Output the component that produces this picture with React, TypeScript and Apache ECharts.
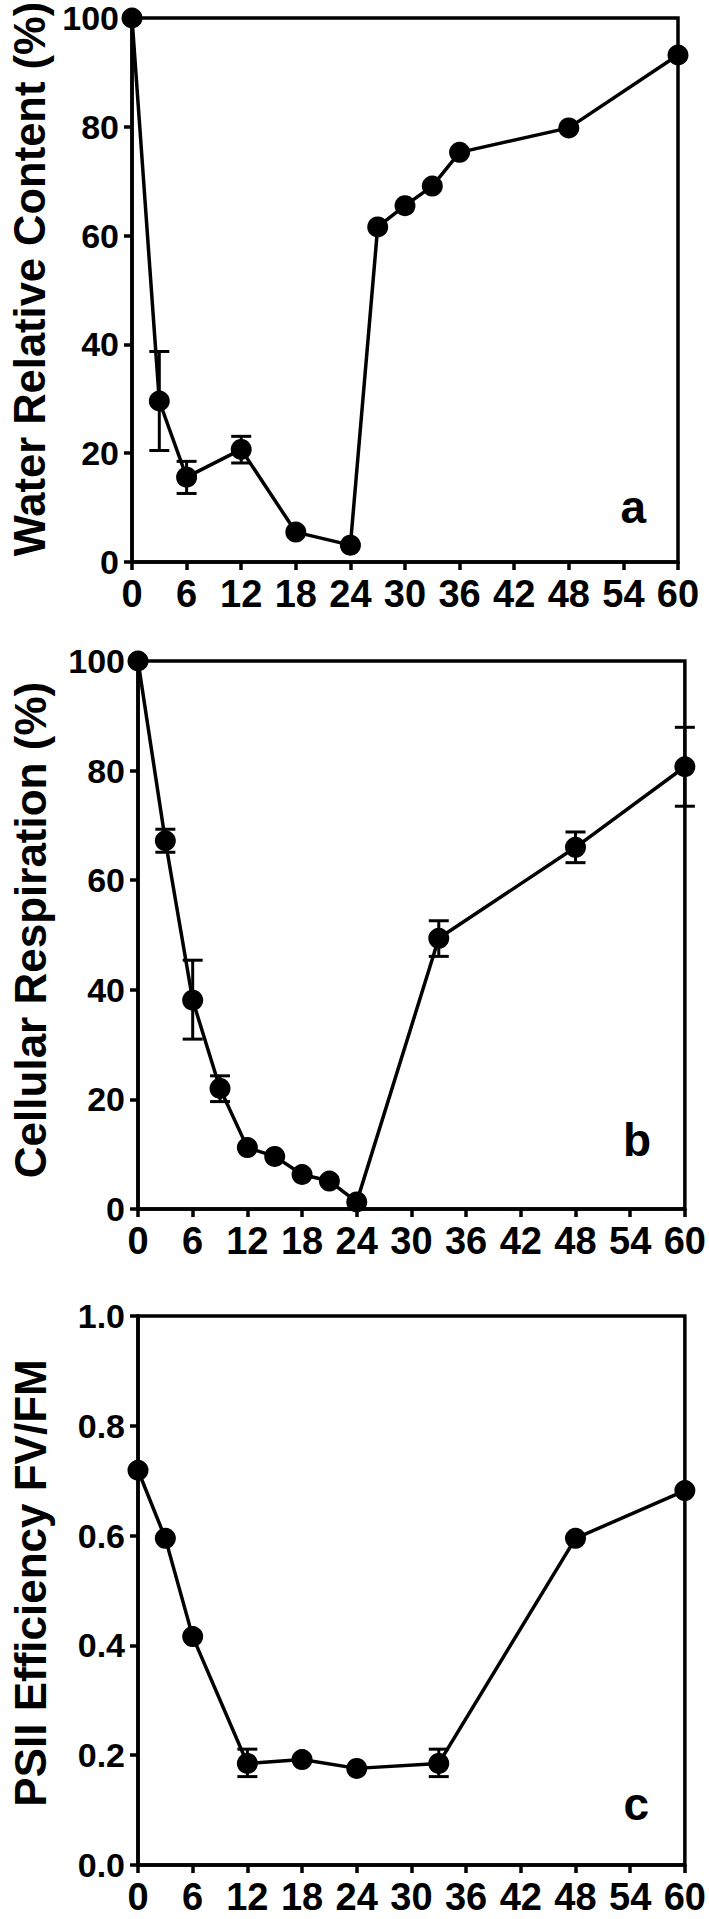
import React, { useEffect, useRef } from "react";
import * as echarts from "echarts";

// ---- Data ----
const hoursA = [0, 3, 6, 12, 18, 24, 27, 30, 33, 36, 48, 60];
const waterContent = [100, 29.6, 15.6, 20.7, 5.5, 3.1, 61.6, 65.5, 69.1, 75.3, 79.8, 93.2];
const waterErr = [
  [3, 20.5, 38.7],
  [6, 12.6, 18.5],
  [12, 18.2, 23.1],
];

const hoursB = [0, 3, 6, 9, 12, 15, 18, 21, 24, 33, 48, 60];
const respiration = [100, 67.2, 38.1, 22.0, 11.2, 9.6, 6.3, 5.1, 1.3, 49.4, 66.0, 80.7];
const respErr = [
  [3, 65.1, 69.3],
  [6, 31.0, 45.4],
  [9, 19.6, 24.3],
  [33, 46.1, 52.6],
  [48, 63.2, 68.8],
  [60, 73.5, 87.9],
];

const hoursC = [0, 3, 6, 12, 18, 24, 33, 48, 60];
const psii = [0.719, 0.595, 0.416, 0.185, 0.192, 0.176, 0.185, 0.595, 0.682];
const psiiErr = [
  [12, 0.161, 0.211],
  [33, 0.161, 0.211],
];

const titles = ["Water Relative Content (%)", "Cellular Respiration (%)", "PSII Efficiency FV/FM"];
const panelLetters = ["a", "b", "c"];
const psiiTickLabels = ["0.0", "0.2", "0.4", "0.6", "0.8", "1.0"];

const FONT = "'Liberation Sans', Arial, Helvetica, sans-serif";
const FONT_X = "'Liberation Sans Narrow', 'Arial Narrow', 'Liberation Sans', Arial, sans-serif";

export default function App() {
  const ref = useRef<HTMLDivElement>(null);

  useEffect(() => {
    document.body.style.margin = "0";
    const chart = echarts.init(ref.current!, null, { renderer: "svg" });

    const grids = [
      { left: 132, top: 18, width: 546, height: 544 },
      { left: 138, top: 661, width: 547, height: 548 },
      { left: 138, top: 1316, width: 547, height: 549 },
    ];

    const axisLineStyle = { color: "#000", width: 3.5 };

    const xAxes = grids.map((_, i) => ({
      gridIndex: i,
      type: "value",
      min: 0,
      max: 60,
      interval: 6,
      axisLine: { show: true, onZero: false, lineStyle: axisLineStyle },
      axisTick: { show: true, length: 8, lineStyle: axisLineStyle },
      splitLine: { show: false },
      axisLabel: {
        color: "#000",
        fontFamily: FONT_X,
        fontWeight: "bold",
        fontSize: 38,
        margin: 13,
      },
    }));

    const yAxes = grids.map((_, i) => ({
      gridIndex: i,
      type: "value",
      min: 0,
      max: i === 2 ? 1 : 100,
      interval: i === 2 ? 0.2 : 20,
      axisLine: { show: true, onZero: false, lineStyle: axisLineStyle },
      axisTick: { show: true, length: 8, lineStyle: axisLineStyle },
      splitLine: { show: false },
      axisLabel: {
        color: "#000",
        fontFamily: FONT,
        fontWeight: "bold",
        fontSize: 34,
        margin: 13,
        formatter: (v: number) =>
          i === 2 ? psiiTickLabels[Math.round(v / 0.2)] : String(Math.round(v)),
      },
    }));

    const lineSeries = (i: number, xs: number[], ys: number[]) => ({
      type: "line",
      xAxisIndex: i,
      yAxisIndex: i,
      data: xs.map((x, j) => [x, ys[j]]),
      symbol: "circle",
      symbolSize: 21,
      itemStyle: { color: "#000" },
      lineStyle: { color: "#000", width: 3.5 },
      clip: false,
      z: 5,
    });

    const errSeries = (i: number, errs: number[][]) => ({
      type: "custom",
      xAxisIndex: i,
      yAxisIndex: i,
      data: errs,
      clip: false,
      z: 4,
      renderItem: (params: any, api: any) => {
        const x = api.value(0);
        const lo = api.value(1);
        const hi = api.value(2);
        const pHi = api.coord([x, hi]);
        const pLo = api.coord([x, lo]);
        const hw = 10;
        const style = { stroke: "#000", lineWidth: 3 };
        return {
          type: "group",
          children: [
            { type: "line", shape: { x1: pHi[0], y1: pHi[1], x2: pLo[0], y2: pLo[1] }, style },
            { type: "line", shape: { x1: pHi[0] - hw, y1: pHi[1], x2: pHi[0] + hw, y2: pHi[1] }, style },
            { type: "line", shape: { x1: pLo[0] - hw, y1: pLo[1], x2: pLo[0] + hw, y2: pLo[1] }, style },
          ],
        };
      },
    });

    const titleCenters = [279, 930, 1583];
    const titleSizes = [43.5, 44, 44];
    const letterPos = [
      [646, 507],
      [651, 1140],
      [649, 1804],
    ];

    const graphic: any[] = [];
    titles.forEach((t, i) => {
      graphic.push({
        type: "text",
        x: 30,
        y: titleCenters[i],
        rotation: Math.PI / 2,
        z: 10,
        style: {
          text: t,
          fill: "#000",
          font: `bold ${titleSizes[i]}px ${FONT}`,
          textAlign: "center",
          textVerticalAlign: "middle",
        },
      });
    });
    panelLetters.forEach((l, i) => {
      graphic.push({
        type: "text",
        x: letterPos[i][0],
        y: letterPos[i][1],
        z: 10,
        style: {
          text: l,
          fill: "#000",
          font: `bold 46px ${FONT}`,
          textAlign: "right",
          textVerticalAlign: "middle",
        },
      });
    });

    chart.setOption({
      animation: false,
      backgroundColor: "#fff",
      grid: grids.map((g) => ({
        ...g,
        show: true,
        borderColor: "#000",
        borderWidth: 3.5,
        backgroundColor: "transparent",
        containLabel: false,
      })),
      xAxis: xAxes,
      yAxis: yAxes,
      series: [
        errSeries(0, waterErr),
        lineSeries(0, hoursA, waterContent),
        errSeries(1, respErr),
        lineSeries(1, hoursB, respiration),
        errSeries(2, psiiErr),
        lineSeries(2, hoursC, psii),
      ],
      graphic,
    });

    return () => chart.dispose();
  }, []);

  return (
    <div
      ref={ref}
      style={{ position: "absolute", left: 0, top: 0, width: 709, height: 1919 }}
    />
  );
}
